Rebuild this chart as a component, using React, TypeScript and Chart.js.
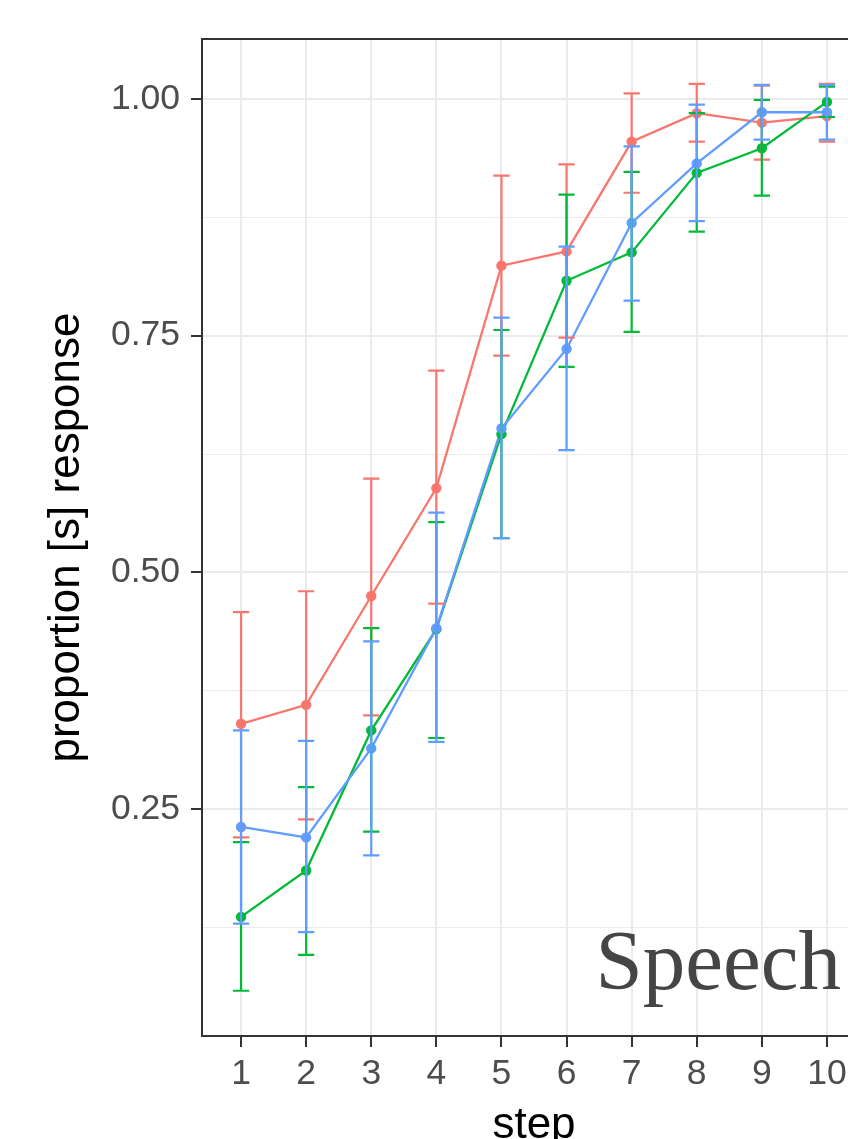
import React, { useEffect, useRef } from "react";
import { Chart, registerables } from "chart.js";

Chart.register(...registerables);

// ---- data ----
const steps = [1, 2, 3, 4, 5, 6, 7, 8, 9, 10];
const yTickValues = [0.25, 0.5, 0.75, 1.0];
const yMinorValues = [0.125, 0.375, 0.625, 0.875];

const redMean = [0.340, 0.360, 0.475, 0.589, 0.824, 0.839, 0.955, 0.985, 0.975, 0.982];
const redLow = [0.220, 0.239, 0.349, 0.467, 0.729, 0.748, 0.901, 0.955, 0.936, 0.955];
const redHigh = [0.458, 0.480, 0.599, 0.713, 0.919, 0.931, 1.006, 1.016, 1.014, 1.016];

const greenMean = [0.136, 0.185, 0.333, 0.440, 0.646, 0.808, 0.838, 0.922, 0.948, 0.997];
const greenLow = [0.058, 0.096, 0.226, 0.325, 0.536, 0.717, 0.754, 0.860, 0.898, 0.981];
const greenHigh = [0.215, 0.273, 0.441, 0.553, 0.756, 0.899, 0.923, 0.985, 0.999, 1.013];

const blueMean = [0.231, 0.220, 0.314, 0.441, 0.652, 0.736, 0.869, 0.932, 0.986, 0.986];
const blueLow = [0.129, 0.120, 0.201, 0.321, 0.536, 0.629, 0.787, 0.871, 0.957, 0.957];
const blueHigh = [0.333, 0.322, 0.427, 0.563, 0.769, 0.844, 0.950, 0.994, 1.015, 1.015];

const panelLabel = "Speech";
const xTitle = "step";
const yTitle = "proportion [s] response";

// ---- styles / layout ----
const RED = "#F8766D";
const GREEN = "#00BA38";
const BLUE = "#619CFF";
const W = 880;
const H = 1170;
const SANS = '"Liberation Sans", Arial, Helvetica, sans-serif';

const groups = [
  { color: RED, mean: redMean, low: redLow, high: redHigh, order: 3 },
  { color: GREEN, mean: greenMean, low: greenLow, high: greenHigh, order: 2 },
  { color: BLUE, mean: blueMean, low: blueLow, high: blueHigh, order: 1 },
];

const isMajor = (v: number) => yTickValues.some((t) => Math.abs(t - v) < 1e-6);

const overlay = {
  id: "overlay",
  afterDatasetsDraw(chart: any) {
    const { ctx, chartArea, scales } = chart;
    const x = scales.x;
    const y = scales.y;
    ctx.save();
    // error bars
    ctx.lineWidth = 2.2;
    ctx.lineCap = "butt";
    for (const g of groups) {
      ctx.strokeStyle = g.color;
      for (let i = 0; i < steps.length; i++) {
        const px = x.getPixelForValue(steps[i]);
        const pl = x.getPixelForValue(steps[i] - 0.125);
        const pr = x.getPixelForValue(steps[i] + 0.125);
        const yl = y.getPixelForValue(g.low[i]);
        const yh = y.getPixelForValue(g.high[i]);
        ctx.beginPath();
        ctx.moveTo(px, yl);
        ctx.lineTo(px, yh);
        ctx.moveTo(pl, yl);
        ctx.lineTo(pr, yl);
        ctx.moveTo(pl, yh);
        ctx.lineTo(pr, yh);
        ctx.stroke();
      }
    }
    // panel label
    ctx.font = '85px "Liberation Serif", "Times New Roman", serif';
    ctx.fillStyle = "#454545";
    ctx.textAlign = "left";
    ctx.textBaseline = "alphabetic";
    ctx.fillText(panelLabel, x.getPixelForValue(6.445), y.getPixelForValue(0.0598));
    // panel border
    ctx.strokeStyle = "#333333";
    ctx.lineWidth = 2;
    ctx.strokeRect(
      chartArea.left,
      chartArea.top,
      chartArea.right - chartArea.left,
      chartArea.bottom - chartArea.top
    );
    ctx.restore();
  },
};

export default function App() {
  const ref = useRef<HTMLCanvasElement | null>(null);

  useEffect(() => {
    if (!ref.current) return;
    const datasets: any[] = [];
    for (const g of groups) {
      datasets.push({
        label: "line",
        data: steps.map((s, i) => ({ x: s, y: g.mean[i] })),
        borderColor: g.color,
        backgroundColor: g.color,
        borderWidth: 2.3,
        pointRadius: 0,
        fill: false,
        tension: 0,
        order: g.order + 10,
      });
    }
    for (const g of groups) {
      datasets.push({
        label: "points",
        data: steps.map((s, i) => ({ x: s, y: g.mean[i] })),
        borderColor: g.color,
        backgroundColor: g.color,
        showLine: false,
        pointRadius: 5.2,
        pointBorderWidth: 0,
        order: g.order,
      });
    }

    const chart = new Chart(ref.current, {
      type: "line",
      data: { datasets },
      plugins: [overlay],
      options: {
        animation: false,
        responsive: false,
        devicePixelRatio: 1,
        layout: { padding: { top: 39, right: W - 866, left: 0, bottom: 0 } },
        plugins: {
          legend: { display: false },
          tooltip: { enabled: false },
        },
        scales: {
          x: {
            type: "linear",
            min: 0.4,
            max: 10.6,
            afterBuildTicks: (scale: any) => {
              scale.ticks = steps.map((v) => ({ value: v }));
            },
            afterFit: (scale: any) => {
              scale.height = H - 1036;
            },
            border: { display: false },
            grid: {
              color: "#EBEBEB",
              lineWidth: 2,
              drawTicks: true,
              tickLength: 11,
              tickColor: "#333333",
              tickWidth: 2,
            },
            ticks: {
              autoSkip: false,
              maxRotation: 0,
              minRotation: 0,
              padding: 6,
              color: "#4D4D4D",
              font: { family: SANS, size: 35.5 },
              callback: (v: any) => String(v),
            },
            title: {
              display: true,
              text: xTitle,
              color: "#000000",
              font: { family: SANS, size: 44 },
              padding: { top: 0, bottom: 17.5 },
            },
          },
          y: {
            type: "linear",
            min: 0.0102,
            max: 1.0634,
            afterBuildTicks: (scale: any) => {
              const all = [...yMinorValues, ...yTickValues].sort((a, b) => a - b);
              scale.ticks = all.map((v) => ({ value: v }));
            },
            afterFit: (scale: any) => {
              scale.width = 202;
            },
            border: { display: false },
            grid: {
              color: "#EBEBEB",
              lineWidth: (c: any) => (isMajor(c.tick.value) ? 2 : 1),
              drawTicks: true,
              tickLength: 11,
              tickColor: (c: any) => (isMajor(c.tick.value) ? "#333333" : "rgba(0,0,0,0)"),
              tickWidth: 2,
            },
            ticks: {
              autoSkip: false,
              padding: 11,
              color: "#4D4D4D",
              font: { family: SANS, size: 35.5 },
              callback: (v: any) => (isMajor(Number(v)) ? Number(v).toFixed(2) : ""),
            },
            title: {
              display: true,
              text: yTitle,
              color: "#000000",
              font: { family: SANS, size: 44 },
              padding: { top: 40, bottom: 0 },
            },
          },
        },
      } as any,
    });
    return () => chart.destroy();
  }, []);

  return (
    <div
      style={{
        position: "fixed",
        left: 0,
        top: 0,
        width: 848,
        height: 1139,
        overflow: "hidden",
        background: "#FFFFFF",
      }}
    >
      <canvas ref={ref} width={W} height={H} style={{ display: "block", width: W, height: H }} />
    </div>
  );
}
